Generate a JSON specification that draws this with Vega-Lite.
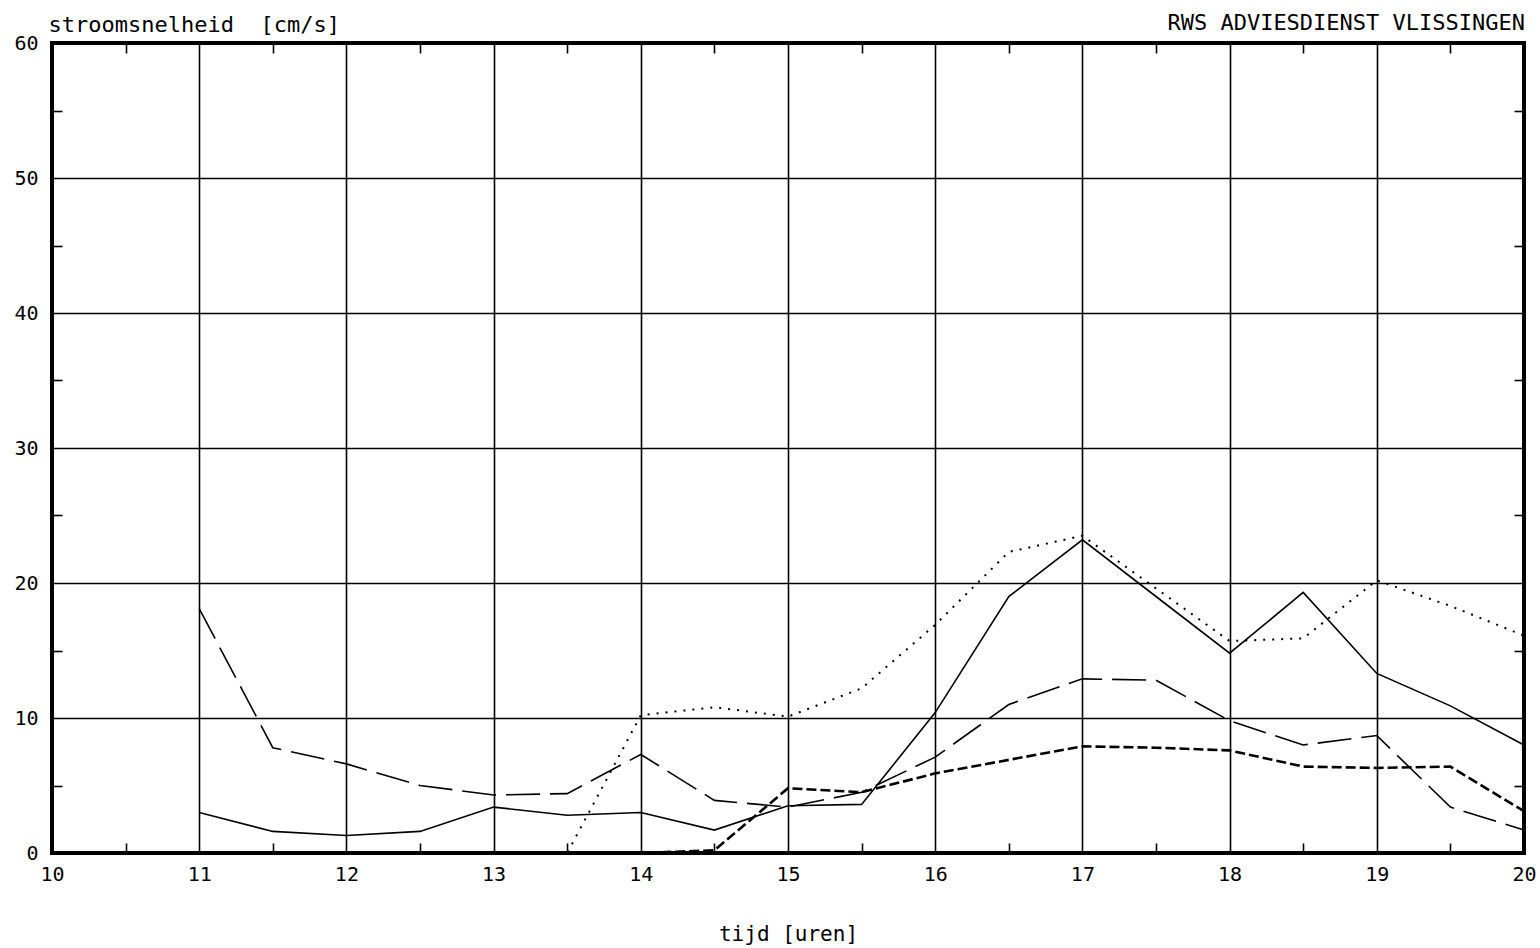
{
  "$schema": "https://vega.github.io/schema/vega-lite/v6.json",
  "width": 1472,
  "height": 810,
  "autosize": {"type": "none"},
  "padding": {"left": 52, "top": 43, "right": 16, "bottom": 95},
  "background": "white",
  "config": {
    "view": {"stroke": "black", "strokeWidth": 4},
    "font": "DejaVu Sans Mono",
    "axis": {"labelFont": "DejaVu Sans Mono", "titleFont": "DejaVu Sans Mono", "labelColor": "black", "titleColor": "black", "titleFontWeight": "normal"}
  },
  "title": {
    "text": "RWS ADVIESDIENST VLISSINGEN",
    "anchor": "end",
    "font": "DejaVu Sans Mono",
    "fontSize": 22,
    "fontWeight": "normal",
    "color": "black",
    "offset": -22,
    "dx": -11
  },
  "datasets": {
    "metingen": [
      {"t": 11, "v": 3.0, "s": "reeks 1"}, {"t": 11.5, "v": 1.6, "s": "reeks 1"}, {"t": 12, "v": 1.3, "s": "reeks 1"}, {"t": 12.5, "v": 1.6, "s": "reeks 1"}, {"t": 13, "v": 3.4, "s": "reeks 1"}, {"t": 13.5, "v": 2.8, "s": "reeks 1"}, {"t": 14, "v": 3.0, "s": "reeks 1"}, {"t": 14.5, "v": 1.7, "s": "reeks 1"}, {"t": 15, "v": 3.5, "s": "reeks 1"}, {"t": 15.5, "v": 3.6, "s": "reeks 1"}, {"t": 16, "v": 10.4, "s": "reeks 1"}, {"t": 16.5, "v": 19.0, "s": "reeks 1"}, {"t": 17, "v": 23.2, "s": "reeks 1"}, {"t": 17.5, "v": 19.0, "s": "reeks 1"}, {"t": 18, "v": 14.8, "s": "reeks 1"}, {"t": 18.5, "v": 19.3, "s": "reeks 1"}, {"t": 19, "v": 13.3, "s": "reeks 1"}, {"t": 19.5, "v": 10.9, "s": "reeks 1"}, {"t": 20, "v": 8.0, "s": "reeks 1"},
      {"t": 11, "v": 18.1, "s": "reeks 2"}, {"t": 11.5, "v": 7.8, "s": "reeks 2"}, {"t": 12, "v": 6.6, "s": "reeks 2"}, {"t": 12.5, "v": 5.0, "s": "reeks 2"}, {"t": 13, "v": 4.3, "s": "reeks 2"}, {"t": 13.5, "v": 4.4, "s": "reeks 2"}, {"t": 14, "v": 7.3, "s": "reeks 2"}, {"t": 14.5, "v": 3.9, "s": "reeks 2"}, {"t": 15, "v": 3.4, "s": "reeks 2"}, {"t": 15.5, "v": 4.5, "s": "reeks 2"}, {"t": 16, "v": 7.1, "s": "reeks 2"}, {"t": 16.5, "v": 11.0, "s": "reeks 2"}, {"t": 17, "v": 12.9, "s": "reeks 2"}, {"t": 17.5, "v": 12.8, "s": "reeks 2"}, {"t": 18, "v": 9.8, "s": "reeks 2"}, {"t": 18.5, "v": 8.0, "s": "reeks 2"}, {"t": 19, "v": 8.7, "s": "reeks 2"}, {"t": 19.5, "v": 3.4, "s": "reeks 2"}, {"t": 20, "v": 1.7, "s": "reeks 2"},
      {"t": 11, "v": 0, "s": "reeks 3"}, {"t": 11.5, "v": 0, "s": "reeks 3"}, {"t": 12, "v": 0, "s": "reeks 3"}, {"t": 12.5, "v": 0, "s": "reeks 3"}, {"t": 13, "v": 0, "s": "reeks 3"}, {"t": 13.5, "v": 0, "s": "reeks 3"}, {"t": 14, "v": 0, "s": "reeks 3"}, {"t": 14.5, "v": 0.2, "s": "reeks 3"}, {"t": 15, "v": 4.8, "s": "reeks 3"}, {"t": 15.5, "v": 4.5, "s": "reeks 3"}, {"t": 16, "v": 5.9, "s": "reeks 3"}, {"t": 16.5, "v": 6.9, "s": "reeks 3"}, {"t": 17, "v": 7.9, "s": "reeks 3"}, {"t": 17.5, "v": 7.8, "s": "reeks 3"}, {"t": 18, "v": 7.6, "s": "reeks 3"}, {"t": 18.5, "v": 6.4, "s": "reeks 3"}, {"t": 19, "v": 6.3, "s": "reeks 3"}, {"t": 19.5, "v": 6.4, "s": "reeks 3"}, {"t": 20, "v": 3.1, "s": "reeks 3"},
      {"t": 11, "v": 0, "s": "reeks 4"}, {"t": 11.5, "v": 0, "s": "reeks 4"}, {"t": 12, "v": 0, "s": "reeks 4"}, {"t": 12.5, "v": 0, "s": "reeks 4"}, {"t": 13, "v": 0, "s": "reeks 4"}, {"t": 13.5, "v": 0, "s": "reeks 4"}, {"t": 14, "v": 10.2, "s": "reeks 4"}, {"t": 14.5, "v": 10.8, "s": "reeks 4"}, {"t": 15, "v": 10.1, "s": "reeks 4"}, {"t": 15.5, "v": 12.2, "s": "reeks 4"}, {"t": 16, "v": 16.9, "s": "reeks 4"}, {"t": 16.5, "v": 22.3, "s": "reeks 4"}, {"t": 17, "v": 23.5, "s": "reeks 4"}, {"t": 17.5, "v": 19.6, "s": "reeks 4"}, {"t": 18, "v": 15.7, "s": "reeks 4"}, {"t": 18.5, "v": 15.9, "s": "reeks 4"}, {"t": 19, "v": 20.2, "s": "reeks 4"}, {"t": 19.5, "v": 18.3, "s": "reeks 4"}, {"t": 20, "v": 16.1, "s": "reeks 4"}
    ]
  },
  "data": {"name": "metingen"},
  "layer": [
    {
      "transform": [{"filter": "datum.s === 'reeks 1'"}],
      "mark": {"type": "line", "color": "black", "strokeWidth": 1.6},
      "encoding": {
        "x": {"field": "t", "type": "quantitative", "scale": {"domain": [10, 20], "nice": false, "zero": false},
          "axis": {"orient": "bottom", "values": [10, 11, 12, 13, 14, 15, 16, 17, 18, 19, 20], "format": "d", "ticks": false, "domain": false,
            "grid": true, "gridColor": "black", "gridOpacity": 1, "gridWidth": 1.6,
            "labelFontSize": 20, "labelPadding": 11, "labelFlush": false,
            "title": "tijd [uren]", "titleFontSize": 21, "titlePadding": 39}},
        "y": {"field": "v", "type": "quantitative", "scale": {"domain": [0, 60], "nice": false},
          "axis": {"orient": "left", "values": [0, 10, 20, 30, 40, 50, 60], "format": "d", "ticks": false, "domain": false,
            "grid": true, "gridColor": "black", "gridOpacity": 1, "gridWidth": 1.6,
            "labelFontSize": 20, "labelPadding": 14, "labelFlush": false,
            "title": "stroomsnelheid\u00a0 [cm/s]", "titleFontSize": 22, "titleAngle": 0, "titleAlign": "left", "titleBaseline": "alphabetic", "titleX": -4, "titleY": -12}}
      }
    },
    {
      "transform": [{"filter": "datum.s === 'reeks 2'"}],
      "mark": {"type": "line", "color": "black", "strokeWidth": 1.6, "strokeDash": [34, 10]},
      "encoding": {
        "x": {"field": "t", "type": "quantitative",
          "axis": {"orient": "bottom", "values": [10.5, 11.5, 12.5, 13.5, 14.5, 15.5, 16.5, 17.5, 18.5, 19.5], "labels": false, "grid": false, "domain": false, "ticks": true, "tickSize": -10, "tickWidth": 1.6, "tickColor": "black", "title": null}},
        "y": {"field": "v", "type": "quantitative",
          "axis": {"orient": "left", "values": [5, 15, 25, 35, 45, 55], "labels": false, "grid": false, "domain": false, "ticks": true, "tickSize": -10, "tickWidth": 1.6, "tickColor": "black", "title": null}}
      }
    },
    {
      "transform": [{"filter": "datum.s === 'reeks 3'"}],
      "mark": {"type": "line", "color": "black", "strokeWidth": 2.6, "strokeDash": [10, 4]},
      "encoding": {
        "x": {"field": "t", "type": "quantitative",
          "axis": {"orient": "top", "values": [10.5, 11.5, 12.5, 13.5, 14.5, 15.5, 16.5, 17.5, 18.5, 19.5], "labels": false, "grid": false, "domain": false, "ticks": true, "tickSize": -10, "tickWidth": 1.6, "tickColor": "black", "title": null}},
        "y": {"field": "v", "type": "quantitative",
          "axis": {"orient": "right", "values": [5, 15, 25, 35, 45, 55], "labels": false, "grid": false, "domain": false, "ticks": true, "tickSize": -10, "tickWidth": 1.6, "tickColor": "black", "title": null}}
      }
    },
    {
      "transform": [{"filter": "datum.s === 'reeks 4'"}],
      "mark": {"type": "line", "color": "black", "strokeWidth": 2, "strokeDash": [2, 7]},
      "encoding": {
        "x": {"field": "t", "type": "quantitative", "axis": null},
        "y": {"field": "v", "type": "quantitative", "axis": null}
      }
    }
  ],
  "resolve": {"axis": {"x": "independent", "y": "independent"}}
}
